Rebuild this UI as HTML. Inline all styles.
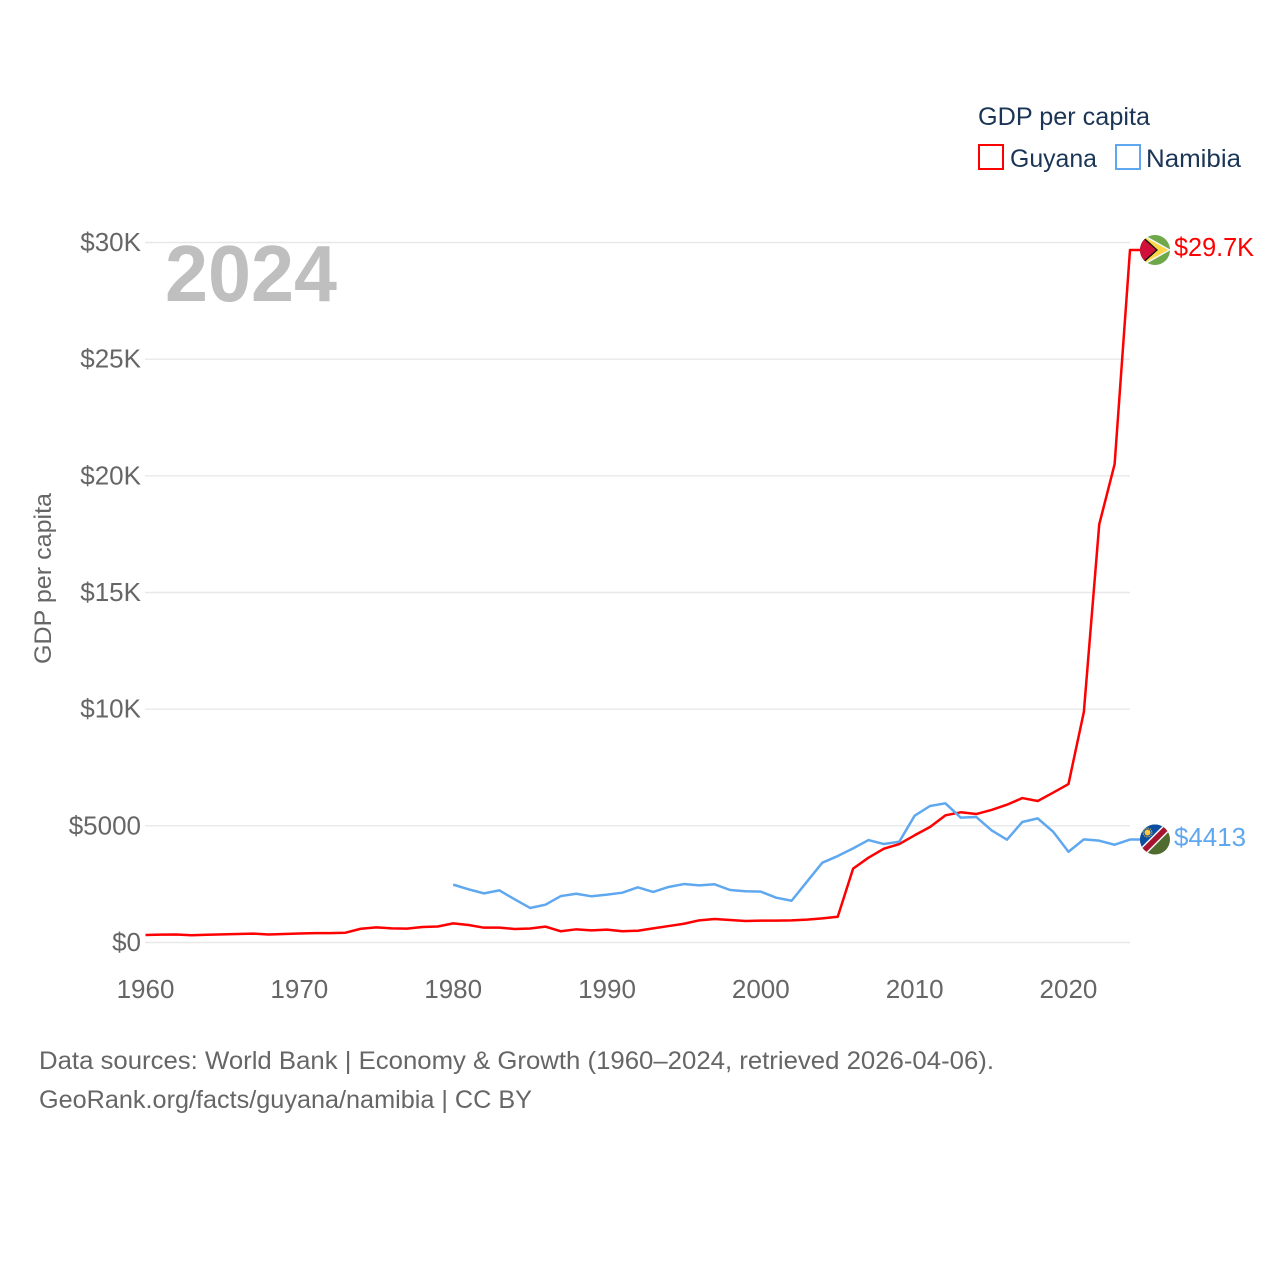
<!DOCTYPE html>
<html lang="en">
<head>
<meta charset="utf-8">
<title>GDP per capita: Guyana and Namibia</title>
<style>
html,body{margin:0;padding:0;background:#fff;}
svg{display:block;}
text{font-family:"Liberation Sans",sans-serif;}
</style>
</head>
<body>
<svg id="chart" xmlns="http://www.w3.org/2000/svg" width="1280" height="1280" viewBox="0 0 1280 1280">
  <rect x="0" y="0" width="1280" height="1280" fill="#ffffff"/>
  <g id="grid"></g>
  <g id="y-ticks"></g>
  <g id="x-ticks"></g>
  <text x="165" y="301" font-size="80" font-weight="700" fill="#bfbfbf" textLength="172" lengthAdjust="spacingAndGlyphs">2024</text>
  <text transform="translate(51,664) rotate(-90)" font-size="24" fill="#666666" textLength="171" lengthAdjust="spacingAndGlyphs">GDP per capita</text>
  <g id="series"></g>

  <defs>
    <clipPath id="flag-clip"><circle cx="0" cy="0" r="15"/></clipPath>
  </defs>
  <g id="flag-guyana">
    <g clip-path="url(#flag-clip)">
      <rect x="-16" y="-16" width="32" height="32" fill="#6fa84b"/>
      <polygon points="-16,-18 16,0 -16,18" fill="#f4f4f0"/>
      <polygon points="-16,-16 13,0 -16,16" fill="#fcd647"/>
      <polygon points="-16,-17 3,0 -16,17" fill="#111111"/>
      <polygon points="-16,-15 1,0 -16,15" fill="#d0103a"/>
    </g>
  </g>
  <g id="flag-namibia">
    <g clip-path="url(#flag-clip)">
      <rect x="-16" y="-16" width="32" height="32" fill="#4f6b2d"/>
      <polygon points="-16,-16 16,-16 -16,16" fill="#0b4ea2"/>
      <line x1="-16" y1="16" x2="16" y2="-16" stroke="#f4f4f4" stroke-width="8.5"/>
      <line x1="-16" y1="16" x2="16" y2="-16" stroke="#a6132f" stroke-width="5.5"/>
      <circle cx="-7.5" cy="-7" r="3" fill="#fcc93b"/>
      <circle cx="-7.5" cy="-7" r="4.4" fill="none" stroke="#fcc93b" stroke-width="1" stroke-dasharray="1.2 1.1"/>
    </g>
  </g>
  <text id="value-guyana" x="1174" font-size="26" fill="#ff0000" textLength="80" lengthAdjust="spacingAndGlyphs"></text>
  <text id="value-namibia" x="1174" font-size="26" fill="#5fa8f0" textLength="72" lengthAdjust="spacingAndGlyphs"></text>

  <g>
    <text x="978" y="125" font-size="25" fill="#1b3556" textLength="172" lengthAdjust="spacingAndGlyphs">GDP per capita</text>
    <g>
      <rect x="979" y="145" width="24" height="24" fill="#ffffff" stroke="#ff0000" stroke-width="2"/>
      <text x="1010" y="167" font-size="25" fill="#1b3556" textLength="87" lengthAdjust="spacingAndGlyphs">Guyana</text>
    </g>
    <g>
      <rect x="1116" y="145" width="24" height="24" fill="#ffffff" stroke="#5fa8f0" stroke-width="2"/>
      <text x="1146" y="167" font-size="25" fill="#1b3556" textLength="95" lengthAdjust="spacingAndGlyphs">Namibia</text>
    </g>
  </g>

  <text x="39" y="1069" font-size="25" fill="#666666" textLength="955" lengthAdjust="spacingAndGlyphs">Data sources: World Bank | Economy &amp; Growth (1960–2024, retrieved 2026-04-06).</text>
  <text x="39" y="1108" font-size="25" fill="#666666" textLength="493" lengthAdjust="spacingAndGlyphs">GeoRank.org/facts/guyana/namibia | CC BY</text>
</svg>
<script>
var yTickValues = [0, 5000, 10000, 15000, 20000, 25000, 30000];
var yTickLabels = ["$0", "$5000", "$10K", "$15K", "$20K", "$25K", "$30K"];
var xTickYears = [1960, 1970, 1980, 1990, 2000, 2010, 2020];
var guyanaStartYear = 1960;
var guyanaValues = [320,340,345,310,330,350,365,380,345,365,385,400,400,420,590,650,605,595,665,685,
  820,750,635,640,580,600,680,480,565,520,550,480,505,605,705,805,950,1005,965,920,
  935,935,950,980,1035,1105,3165,3635,4020,4220,4595,4950,5450,5580,5505,5680,5905,6190,6065,6420,
  6790,9880,17920,20500,29680];
var namibiaStartYear = 1980;
var namibiaValues = [2480,2280,2105,2235,1850,1480,1620,1990,2090,1980,2050,2135,2365,2165,2380,2505,2450,2495,2250,2195,
  2180,1920,1790,2605,3420,3705,4035,4390,4220,4320,5435,5850,5965,5350,5380,4810,4405,5165,5320,4750,
  3890,4420,4365,4190,4413];
var guyanaEndLabel = "$29.7K";
var namibiaEndLabel = "$4413";

var NS = "http://www.w3.org/2000/svg";
function xScale(year) { return 145.5 + (year - 1960) * (1130 - 145.5) / 64; }
function yScale(v) { return 942.5 - v * 700 / 30000; }
function make(tag, attrs, parent) {
  var el = document.createElementNS(NS, tag);
  for (var k in attrs) { el.setAttribute(k, attrs[k]); }
  parent.appendChild(el);
  return el;
}

var grid = document.getElementById("grid");
var yTicks = document.getElementById("y-ticks");
var xTicks = document.getElementById("x-ticks");

yTickValues.forEach(function (v, i) {
  var line = make("line", {x1: 145, x2: 1130, y1: yScale(v), y2: yScale(v), stroke: "#e8e8e8", "stroke-width": 1.4}, grid);
  
  
  var t = make("text", {x: 141, y: yScale(v) + 8.5, "text-anchor": "end", "font-size": 26, fill: "#666666"}, yTicks);
  
  
  t.textContent = yTickLabels[i];
});

xTickYears.forEach(function (yr) {
  var t = make("text", {x: xScale(yr), y: 998, "text-anchor": "middle", "font-size": 26, fill: "#666666"}, xTicks);
  
  
  t.textContent = yr;
});

function drawSeries(values, startYear, color) {
  var pts = values.map(function (v, i) {
    return xScale(startYear + i).toFixed(2) + "," + yScale(v).toFixed(2);
  });
  var lastY = yScale(values[values.length - 1]).toFixed(2);
  pts.push((xScale(startYear + values.length - 1) + 10).toFixed(2) + "," + lastY);
  return make("polyline", {points: pts.join(" "), fill: "none", stroke: color, "stroke-width": 2.5, "stroke-linejoin": "round"}, document.getElementById("series"));
}
var lineG = drawSeries(guyanaValues, guyanaStartYear, "#ff0000");


var lineN = drawSeries(namibiaValues, namibiaStartYear, "#5fa8f0");



function placeEnd(flagId, valueId, values, startYear, label) {
  var last = values[values.length - 1];
  var year = startYear + values.length - 1;
  var fx = xScale(year) + 25;
  var fy = yScale(last);
  document.getElementById(flagId).setAttribute("transform", "translate(" + fx + "," + fy + ")");
  var t = document.getElementById(valueId);
  t.setAttribute("y", Math.floor(fy) + 7);
  t.textContent = label;
}
placeEnd("flag-guyana", "value-guyana", guyanaValues, guyanaStartYear, guyanaEndLabel);
placeEnd("flag-namibia", "value-namibia", namibiaValues, namibiaStartYear, namibiaEndLabel);
</script>
</body>
</html>
